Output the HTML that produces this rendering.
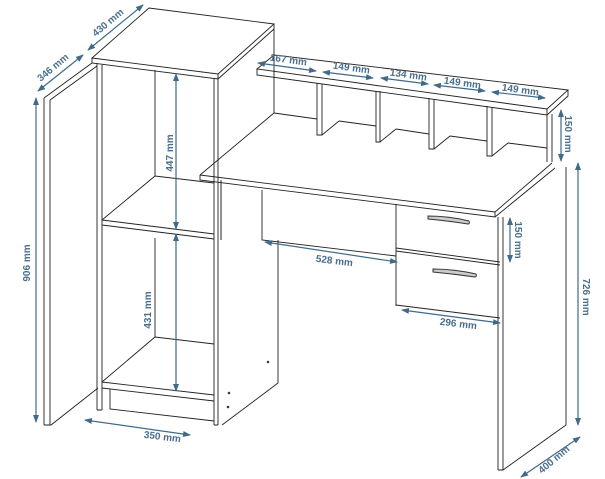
<!DOCTYPE html>
<html><head><meta charset="utf-8"><style>
html,body{margin:0;padding:0;background:#fff;}
svg{display:block;}
text{font-family:"Liberation Sans",sans-serif;font-size:10px;font-weight:bold;fill:#4a6f8c;}
</style></head><body>
<svg width="605" height="479" viewBox="0 0 605 479" xmlns="http://www.w3.org/2000/svg">
<defs>
<marker id="a" markerWidth="8" markerHeight="6" refX="7" refY="3" orient="auto-start-reverse" markerUnits="userSpaceOnUse">
<path d="M0,0 L8,3 L0,6 z" fill="#3f6a8a"/></marker>
</defs>
<g stroke="#222" stroke-width="0.9" fill="none">
<path d="M92,58 L149,8 L274,24 L218,74 Z"/>
<path d="M92,58 V63 L218,79 V74 M218,79 L274,29 V24"/>
<path d="M44,98 V425 M50,100 V425 M44,98 L92,63 M50,100 L97,66 M44,425 H51 L98,388"/>
<path d="M97,63 V410 M102,65 V410 M97,410 H102"/>
<path d="M214,78 V425 M218,79 V425 M214,425 H218"/>
<path d="M155,70 V176 M155,238 V337 M274,29 V113"/>
<path d="M102,220 L155,176 L214,183 M102,220 L214,234 M102,225 L214,239"/>
<path d="M102,382 L155,337 L214,344 M102,382 L214,395 M102,388 L214,401 M110,389 V409 L214,421"/>
<path d="M221,180 V240 M278,240 V383 L222,425"/>
<circle cx="268" cy="362" r="0.8"/><circle cx="229" cy="393" r="0.8"/><circle cx="228" cy="407" r="0.8"/>
<path d="M257,69 L274,55 L568,90 L547,109 L257,69 Z"/>
<path d="M257,69 V75 L547,115 V109 M547,115 L568,96 V90"/>
<path d="M547,115 V162 M552,114 V162"/>
<path d="M274,113 L317,119 M339,121 L376,126 M396,129 L429,134 M450,136 L487,141 M508,143 L547,148"/>
<path d="M317,83 V135 H322 V84 M322,135 L339,121"/>
<path d="M376,91 V142 H380 V91 M380,142 L396,129"/>
<path d="M429,98 V149 H434 V99 M434,149 L450,136"/>
<path d="M487,106 V156 H492 V107 M492,156 L508,143"/>
<path d="M200,175 L274,113 M200,175 L495,212 L552,163 M200,175 V180 L495,217 V212 M495,217 L555,168"/>
<path d="M262,190 V240 L396,256 M221,181 V240"/>
<path d="M396,204 V306 M396,248 L500,262 M396,251 L500,265 M396,305 L500,318"/>
<path d="M498,217 V470 M503,217 V470 M498,470 H503 L566,425 V167"/>
</g>
<g stroke="#333" stroke-width="1" fill="#ccc">
<path d="M428,216 Q449,216 469,221 Q470,224 468,224 Q449,221 428,219 Z"/>
<path d="M433,269 Q454,269 476,274 Q477,277 475,277 Q454,274 433,272 Z"/>
</g>
<g stroke="#3f6a8a" stroke-width="1.2" fill="none" marker-start="url(#a)" marker-end="url(#a)">
<line x1="88" y1="50" x2="143" y2="5"/>
<line x1="38" y1="91" x2="83" y2="55"/>
<line x1="36" y1="98" x2="36" y2="422"/>
<line x1="176" y1="74" x2="176" y2="229"/>
<line x1="176" y1="234" x2="176" y2="391"/>
<line x1="85" y1="420" x2="190" y2="435"/>
<line x1="265" y1="242" x2="397" y2="262"/>
<line x1="402" y1="310" x2="500" y2="323"/>
<line x1="510" y1="218" x2="510" y2="262"/>
<line x1="561" y1="110" x2="561" y2="161"/>
<line x1="578" y1="163" x2="578" y2="425"/>
<line x1="521" y1="477" x2="580" y2="437"/>
<line x1="258" y1="63" x2="316" y2="71"/>
<line x1="323" y1="72" x2="373" y2="78"/>
<line x1="381" y1="78" x2="428" y2="84"/>
<line x1="434" y1="85" x2="485" y2="91"/>
<line x1="492" y1="92" x2="545" y2="98"/>
</g>
<g>
<text transform="translate(110,25) rotate(-40)" text-anchor="middle">430 mm</text>
<text transform="translate(55,70) rotate(-40)" text-anchor="middle">346 mm</text>
<text transform="translate(30,263) rotate(-90)" text-anchor="middle">906 mm</text>
<text transform="translate(173,153) rotate(-90)" text-anchor="middle">447 mm</text>
<text transform="translate(151,310) rotate(-90)" text-anchor="middle">431 mm</text>
<text transform="translate(162,440) rotate(7)" text-anchor="middle">350 mm</text>
<text transform="translate(334,264) rotate(7)" text-anchor="middle">528 mm</text>
<text transform="translate(458,327) rotate(7)" text-anchor="middle">296 mm</text>
<text transform="translate(515,240) rotate(90)" text-anchor="middle">150 mm</text>
<text transform="translate(565,134) rotate(90)" text-anchor="middle">150 mm</text>
<text transform="translate(583,297) rotate(90)" text-anchor="middle">726 mm</text>
<text transform="translate(556,462) rotate(-40)" text-anchor="middle">400 mm</text>
<text transform="translate(288,63) rotate(7.8)" text-anchor="middle">167 mm</text>
<text transform="translate(351,71) rotate(7.8)" text-anchor="middle">149 mm</text>
<text transform="translate(408,78) rotate(7.8)" text-anchor="middle">134 mm</text>
<text transform="translate(462,86) rotate(7.8)" text-anchor="middle">149 mm</text>
<text transform="translate(520,93) rotate(7.8)" text-anchor="middle">149 mm</text>
</g>
</svg>
</body></html>
